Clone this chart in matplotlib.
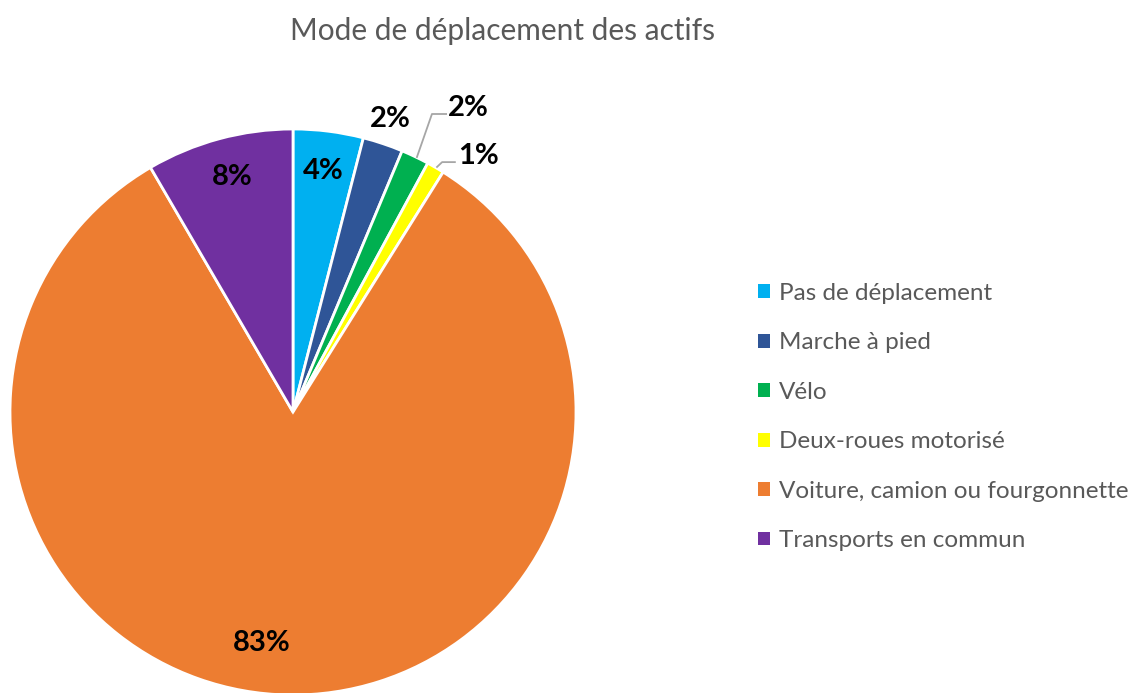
import matplotlib
matplotlib.use("Agg")
import matplotlib.pyplot as plt
from matplotlib.patches import Patch

categories = ["Pas de déplacement", "Marche à pied", "Vélo", "Deux-roues motorisé",
              "Voiture, camion ou fourgonnette", "Transports en commun"]
values = [4.0, 2.3, 1.6, 1.0, 82.7, 8.4]
colors = ["#00B0F0", "#2F5597", "#00B050", "#FFFF00", "#ED7D31", "#7030A0"]
title = "Mode de déplacement des actifs"

plt.rcParams['font.family'] = ['Lato', 'DejaVu Sans']

W, H = 1134, 693
fig = plt.figure(figsize=(W / 100, H / 100), dpi=100)
cx, cy, r = 293, 412, 283
pad = 1.02
ax = fig.add_axes([(cx - r * pad) / W, (H - cy - r * pad) / H, 2 * r * pad / W, 2 * r * pad / H])
wedges, _ = ax.pie(values, colors=colors, startangle=90, counterclock=False,
                   wedgeprops=dict(edgecolor="white", linewidth=2.0))
ax.set_xlim(-pad, pad)
ax.set_ylim(-pad, pad)
ax.set_aspect('equal')
for w in wedges:
    w.set_clip_on(False)

total = sum(values)
labels = [f"{round(v / total * 100)}%" for v in values]
lab_fs = 21
inside = {0: (0.106, 0.85), 5: (-0.216, 0.83), 4: (-0.110, -0.815)}
for i, pos in inside.items():
    ax.text(pos[0], pos[1], labels[i], ha="center", va="center", fontsize=lab_fs, fontweight="bold", color="black")

ax.text(0.343, 1.035, labels[1], ha="center", va="center", fontsize=lab_fs, fontweight="bold", color="black")
# leader lines for small slices
ax.plot([0.438, 0.491, 0.541], [0.901, 1.053, 1.053], color="#A6A6A6", lw=1.3, clip_on=False)
ax.text(0.548, 1.073, labels[2], ha="left", va="center", fontsize=lab_fs, fontweight="bold", color="black")
ax.plot([0.509, 0.527, 0.572], [0.866, 0.883, 0.883], color="#A6A6A6", lw=1.3, clip_on=False)
ax.text(0.583, 0.905, labels[3], ha="left", va="center", fontsize=lab_fs, fontweight="bold", color="black")

fig.text(503 / W, 1 - 31 / H, title, ha="center", va="center", fontsize=21.5, color="#595959")

handles = [Patch(facecolor=c, edgecolor="none") for c in colors]
fig.legend(handles, categories, loc="upper left", bbox_to_anchor=(758 / W, 1 - 283 / H),
           frameon=False, fontsize=17.5, labelcolor="#595959",
           handlelength=0.5, handleheight=0.5, handletextpad=0.35, labelspacing=1.17,
           borderpad=0, borderaxespad=0)

fig.savefig("out.png", dpi=100, facecolor="white")
